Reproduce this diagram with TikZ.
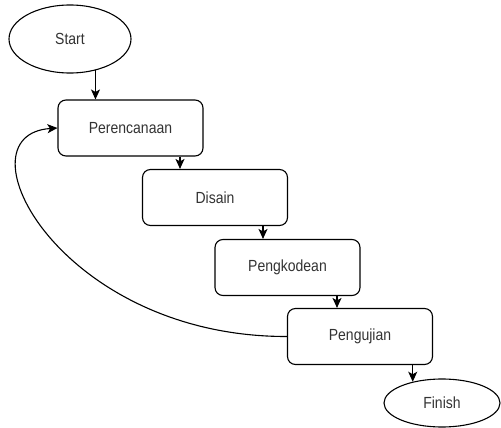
\documentclass[tikz,border=0pt]{standalone}
\usepackage{fontspec}
\setmainfont{Liberation Sans}
\usetikzlibrary{shapes.geometric,arrows.meta}
\newcommand{\tx}[1]{\scalebox{1}[1.15]{#1}}
\begin{document}
\begin{tikzpicture}[x=1pt,y=-1pt,
  lbl/.style={text=black!80, font=\fontsize{14}{16}\selectfont},
  term/.style={ellipse, draw, line width=1.1pt, lbl, inner sep=0pt},
  stepbox/.style={rectangle, draw, line width=1.1pt, rounded corners=8pt, lbl,
    minimum width=145pt, minimum height=56pt, inner sep=0pt},
  arr/.style={line width=1.1pt, -{Stealth[length=10pt,width=9pt,inset=2.5pt]}}]
\useasboundingbox[fill=white] (0,0) rectangle (501,428);
\node[term, minimum width=122pt, minimum height=68pt] (start) at (70,39) {\tx{Start}};
\node[stepbox] (p1) at (130.5,128) {\tx{Perencanaan}};
\node[stepbox] (d) at (215,197.5) {\tx{Disain}};
\node[stepbox] (pk) at (287.5,267.5) {\tx{Pengkodean}};
\node[stepbox] (pu) at (360,336.5) {\tx{Pengujian}};
\node[term, minimum width=116pt, minimum height=48pt] (fin) at (442,403) {\tx{Finish}};
\draw[arr] (start.-51) -- (start.-51 |- p1.north);
\draw[arr] ([xshift=49.5pt]p1.south) -- ([xshift=49.5pt]p1.south |- d.north);
\draw[arr] ([xshift=48pt]d.south) -- ([xshift=48pt]d.south |- pk.north);
\draw[arr] ([xshift=49.5pt]pk.south) -- ([xshift=49.5pt]pk.south |- pu.north);
\draw[arr] (fin.144 |- pu.south) -- (fin.144);
\draw[arr] (pu.west) .. controls (60,337) and (-45,135) .. (p1.west);
\end{tikzpicture}
\end{document}
